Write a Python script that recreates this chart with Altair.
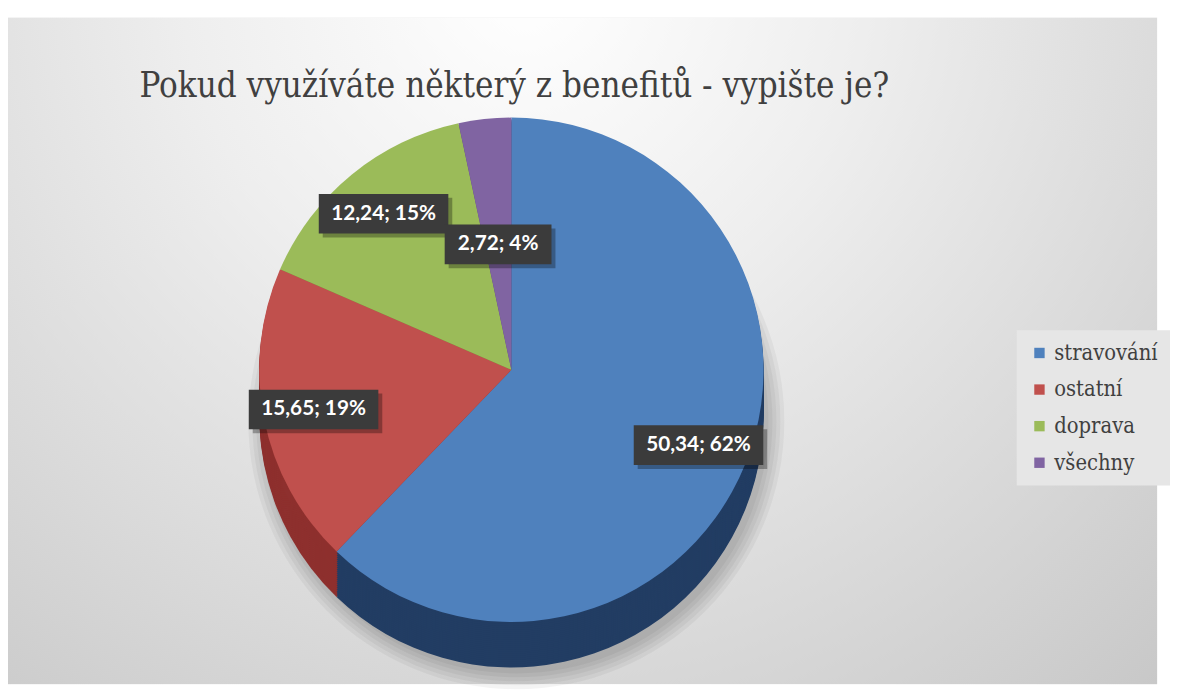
import math
import altair as alt
import pandas as pd

# ---- data ----
categories = ["stravování", "ostatní", "doprava", "všechny"]
values = [50.34, 15.65, 12.24, 2.72]
value_texts = ["50,34", "15,65", "12,24", "2,72"]
percent_texts = ["62%", "19%", "15%", "4%"]
title_text = "Pokud využíváte některý z benefitů - vypište je?"

# ---- styles ----
face_colors = ["#4F81BD", "#C0504D", "#9BBB59", "#8064A2"]
side_colors = ["#223d63", "#8e302e", "#6e8939", "#5a4578"]
SERIF = "DejaVu Serif Condensed, DejaVu Serif"

W, H = 1162, 680
CX, CY, R, D = 509, 362, 255, 46

df = pd.DataFrame({
    "cat": categories,
    "val": values,
    "idx": list(range(len(categories))),
    "lab": [f"{v}; {p}" for v, p in zip(value_texts, percent_texts)],
})
one = pd.DataFrame({"a": [0]})

bg = alt.Chart(one).mark_rect(
    fill=alt.Gradient(
        gradient="radial",
        stops=[
            alt.GradientStop(color="#ffffff", offset=0),
            alt.GradientStop(color="#eeeeee", offset=0.35),
            alt.GradientStop(color="#c6c6c6", offset=1),
        ],
        x1=0.45, y1=0.18, x2=0.45, y2=0.18, r1=0, r2=0.85,
    )
).encode(x=alt.value(0), x2=alt.value(W), y=alt.value(6), y2=alt.value(H))

layers = [bg]

# soft shadow under the pie
for rr in range(R + 16, R - 1, -4):
    layers.append(
        alt.Chart(one).mark_arc(theta=0, theta2=2 * math.pi, radius=rr,
                                color="black", opacity=0.045)
        .encode(x=alt.value(CX + 5), y=alt.value(CY + D + 6))
    )

# side of the 3D pie
for k in range(D, 0, -2):
    layers.append(
        alt.Chart(df).mark_arc(radius=R).encode(
            theta=alt.Theta("val:Q", stack=True),
            order=alt.Order("idx:Q"),
            color=alt.Color("cat:N", scale=alt.Scale(domain=categories, range=side_colors), legend=None),
            x=alt.value(CX), y=alt.value(CY + k),
        )
    )

# top face
top = alt.Chart(df).mark_arc(radius=R).encode(
    theta=alt.Theta("val:Q", stack=True),
    order=alt.Order("idx:Q"),
    color=alt.Color(
        "cat:N",
        scale=alt.Scale(domain=categories, range=face_colors),
        legend=alt.Legend(
            title=None, orient="none", legendX=1020, legendY=322,
            fillColor="#e6e6e6", padding=12, rowPadding=15,
            symbolType="square", symbolSize=110, symbolStrokeWidth=0,
            labelFont=SERIF, labelFontSize=22, labelColor="#404040",
            labelOffset=4,
        ),
    ),
    x=alt.value(CX), y=alt.value(CY),
)
layers.append(top)

lab_base = alt.Chart(df).transform_window(
    cum="sum(val)", sort=[alt.SortField("idx")]
).transform_joinaggregate(total="sum(val)").transform_calculate(
    mid="2*PI*(datum.cum - datum.val/2)/datum.total",
    rf="datum.val/datum.total < 0.05 ? 0.5 : 0.8",
).transform_calculate(
    lx=f"{CX} + {R}*datum.rf*sin(datum.mid)",
    ly=f"{CY} - {R}*datum.rf*cos(datum.mid)",
    bw="length(datum.lab)*11.5 + 16",
).transform_calculate(
    x0="datum.lx - datum.bw/2", x1="datum.lx + datum.bw/2",
    y0="datum.ly - 20", y1="datum.ly + 20",
    sx0="datum.lx - datum.bw/2 + 4", sx1="datum.lx + datum.bw/2 + 4",
    sy0="datum.ly - 16", sy1="datum.ly + 24",
)

shadow_boxes = lab_base.mark_rect(color="black", opacity=0.3).encode(
    x=alt.X("sx0:Q", scale=None), x2="sx1:Q",
    y=alt.Y("sy0:Q", scale=None), y2="sy1:Q",
)
boxes = lab_base.mark_rect(color="#3b3b3b").encode(
    x=alt.X("x0:Q", scale=None), x2="x1:Q",
    y=alt.Y("y0:Q", scale=None), y2="y1:Q",
)
texts = lab_base.mark_text(
    font="Lato", fontWeight="bold", fontSize=21, color="white",
    align="center", baseline="middle",
).encode(x=alt.X("lx:Q", scale=None), y=alt.Y("ly:Q", scale=None), text="lab:N")
layers += [shadow_boxes, boxes, texts]

title = alt.Chart(one).mark_text(
    text=title_text, font=SERIF, fontSize=35, color="#404040",
    align="center", baseline="alphabetic",
).encode(x=alt.value(512), y=alt.value(86))
layers.append(title)

chart = alt.layer(*layers).resolve_scale(color="independent").properties(
    width=W, height=H, padding=0, background="white"
).configure_view(strokeWidth=0)

chart.save("out.html", embed_options={"renderer": "svg", "actions": False})
